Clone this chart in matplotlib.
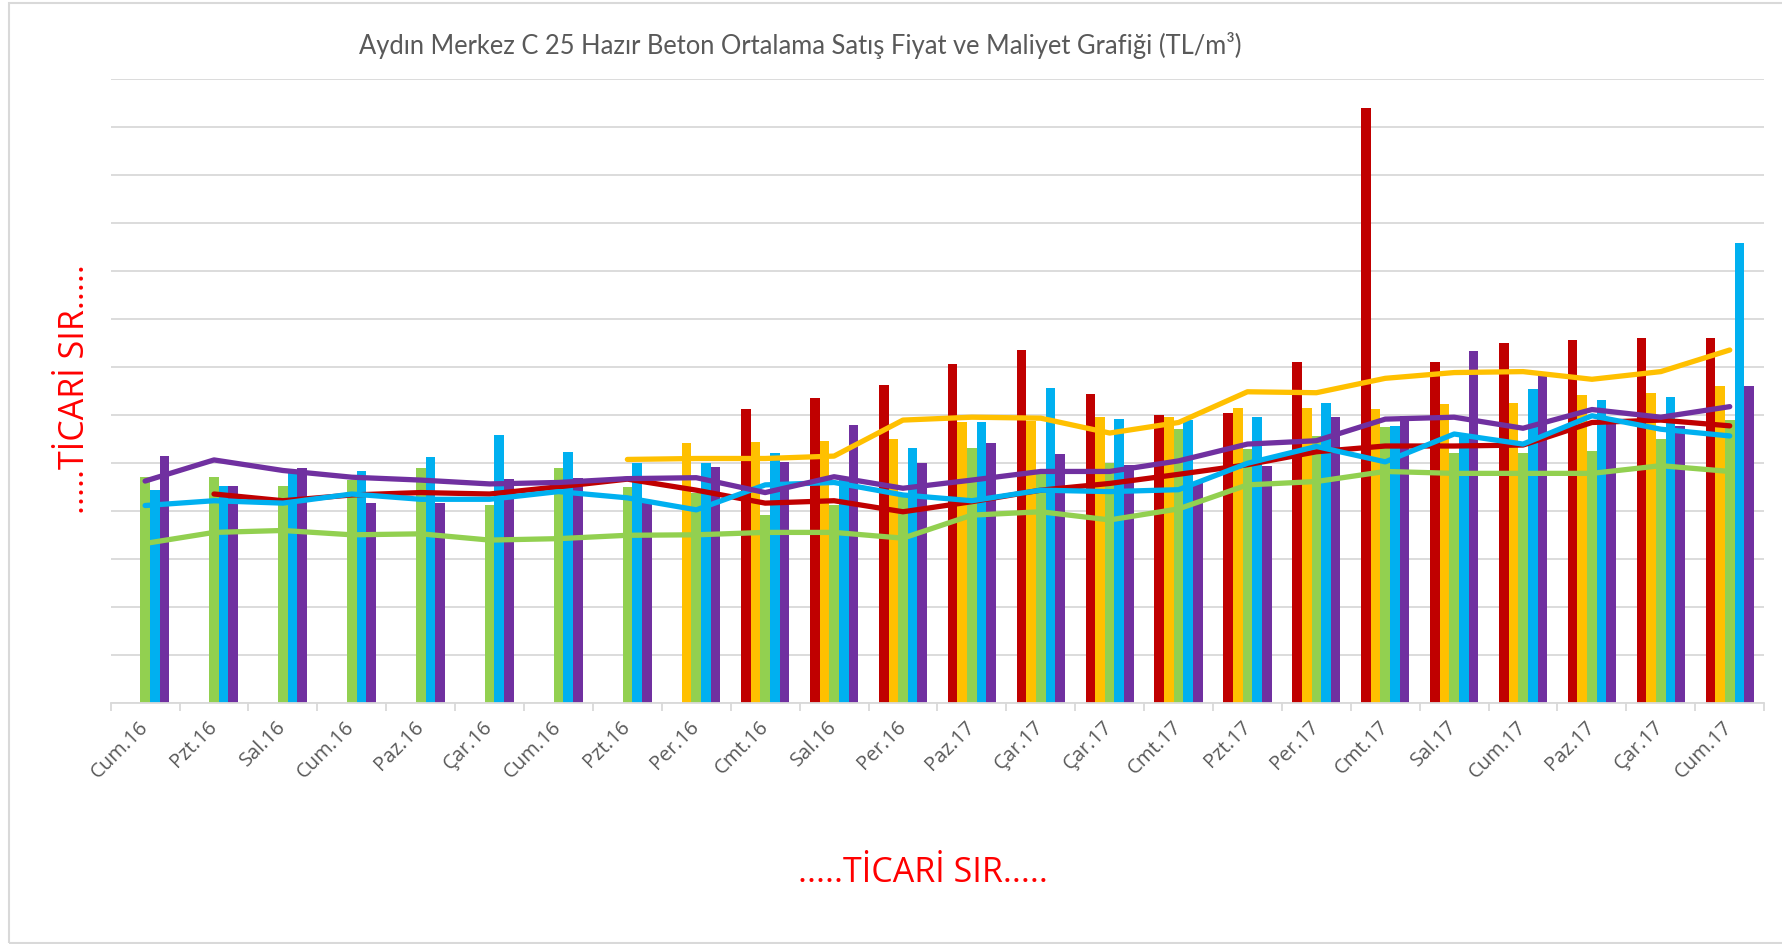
import numpy as np
import matplotlib
matplotlib.use("Agg")
import matplotlib.pyplot as plt
from matplotlib.patches import Rectangle

nan = np.nan

# categories (x axis)
labels = ["Cum.16", "Pzt.16", "Sal.16", "Cum.16", "Paz.16", "Çar.16", "Cum.16", "Pzt.16",
          "Per.16", "Cmt.16", "Sal.16", "Per.16", "Paz.17", "Çar.17", "Çar.17", "Cmt.17",
          "Pzt.17", "Per.17", "Cmt.17", "Sal.17", "Cum.17", "Paz.17", "Çar.17", "Cum.17"]

# bar series (TL/m3)
red_bar = [nan] * 9 + [122.6, 127.2, 132.6, 141.2, 147.0, 128.8, 120.2, 120.8, 142.0,
                       248.0, 142.0, 150.0, 151.2, 152.0, 152.4]
yellow_bar = [nan] * 8 + [108.4, 108.8, 109.2, 110.0, 117.0, 117.8, 119.2, 119.4, 123.0,
                          123.2, 122.6, 124.8, 125.2, 128.4, 129.2, 132.0]
green_bar = [94.4, 94.2, 90.6, 93.0, 98.2, 82.6, 98.2, 90.0, 87.6, 78.4, 82.6, 86.2,
             106.2, 95.8, 100.0, 114.2, 106.0, 111.4, 115.2, 104.4, 104.2, 105.2, 110.0, 118.0]
blue_bar = [89.0, 90.6, 96.6, 96.8, 102.6, 111.6, 104.8, 100.2, 100.2, 104.4, 94.0, 106.2,
            117.4, 131.2, 118.4, 118.0, 119.4, 125.0, 115.6, 111.8, 131.0, 126.4, 127.6, 191.6]
purple_bar = [103.2, 90.6, 98.0, 83.4, 83.6, 93.4, 93.8, 83.4, 98.4, 100.6, 116.0, 100.2,
              108.4, 103.8, 99.2, 91.6, 99.0, 119.4, 119.8, 146.6, 138.2, 118.0, 115.6, 132.4]

# line series (TL/m3)
red_line = [nan, 87.2, 84.4, 86.8, 87.8, 87.2, 90.2, 93.4, 88.8, 83.4, 84.4, 79.8,
            84.0, 88.8, 91.6, 95.4, 99.4, 104.8, 107.2, 107.2, 107.6, 117.0, 118.0, 115.6]
yellow_line = [nan] * 7 + [101.6, 102.0, 102.0, 103.0, 118.0, 119.2, 118.8, 112.6, 117.0,
                           129.8, 129.4, 135.4, 137.8, 138.2, 135.0, 138.2, 147.2]
green_line = [66.6, 71.2, 72.0, 70.2, 70.6, 68.0, 68.6, 70.0, 70.2, 71.2, 71.2, 68.8,
              78.4, 79.8, 76.4, 81.0, 91.0, 92.4, 96.6, 95.8, 95.8, 95.8, 99.0, 96.6]
blue_line = [82.4, 84.4, 83.4, 87.2, 85.0, 85.0, 88.2, 85.6, 80.6, 91.0, 92.0, 86.8,
             84.4, 88.8, 88.2, 89.0, 100.0, 107.0, 100.6, 112.2, 108.0, 119.8, 114.2, 111.4]
purple_line = [92.6, 101.4, 97.0, 94.2, 93.0, 91.4, 92.0, 93.6, 94.0, 87.8, 94.4, 89.6,
               93.0, 96.6, 96.6, 101.0, 108.0, 109.4, 118.4, 119.2, 114.6, 122.4, 119.2, 123.6]

colors = ["#C00000", "#FFC000", "#92D050", "#00B0F0", "#7030A0"]
bars = [red_bar, yellow_bar, green_bar, blue_bar, purple_bar]
lines = [red_line, yellow_line, green_line, blue_line, purple_line]

fig = plt.figure(figsize=(17.82, 9.44), dpi=100)
ax = fig.add_axes([0.0621, 0.255, 0.9279, 0.661])

x = np.arange(len(labels))
w = 0.14
for k, (vals, c) in enumerate(zip(bars, colors)):
    ax.bar(x + (k - 2) * w, vals, width=w, color=c, zorder=2)
for vals, c in zip(lines, colors):
    ax.plot(x, vals, color=c, linewidth=3.8, solid_capstyle="round",
            solid_joinstyle="round", zorder=3)

ax.set_xlim(-0.5, len(labels) - 0.5)
ax.set_ylim(0, 260)
ax.set_yticks(np.arange(0, 261, 20))
ax.yaxis.grid(True, color="#D9D9D9", linewidth=1.3, zorder=0)
ax.set_axisbelow(True)
ax.tick_params(axis="y", length=0, labelleft=False)
for s in ["top", "right", "left"]:
    ax.spines[s].set_visible(False)
ax.spines["bottom"].set_color("#D9D9D9")
ax.spines["bottom"].set_linewidth(1.3)

ax.set_xticks(x)
ax.set_xticklabels(labels, rotation=45, ha="right", va="center", rotation_mode="anchor",
                   fontsize=14.5, color="#595959", family="Open Sans")
ax.tick_params(axis="x", which="major", length=0, pad=15)
ax.set_xticks(np.arange(-0.5, len(labels), 1), minor=True)
ax.tick_params(axis="x", which="minor", length=6, color="#D9D9D9", width=1.3)

fig.text(0.449, 0.952, "Aydın Merkez C 25 Hazır Beton Ortalama Satış Fiyat ve Maliyet Grafiği (TL/m³)",
         ha="center", va="center", fontsize=18.4, color="#595959", family="Lato")
fig.text(0.042, 0.588, ".....TİCARİ SIR.....", rotation=90, ha="center", va="center",
         fontsize=24.5, color="red", family="Open Sans")
fig.text(0.518, 0.075, ".....TİCARİ SIR.....", ha="center", va="center",
         fontsize=24.5, color="red", family="Open Sans")

fig.patches.append(Rectangle((0.005, 0.001), 1.0, 0.996, transform=fig.transFigure,
                             fill=False, edgecolor="#D9D9D9", linewidth=1.5))

fig.savefig("out.png", dpi=100)
